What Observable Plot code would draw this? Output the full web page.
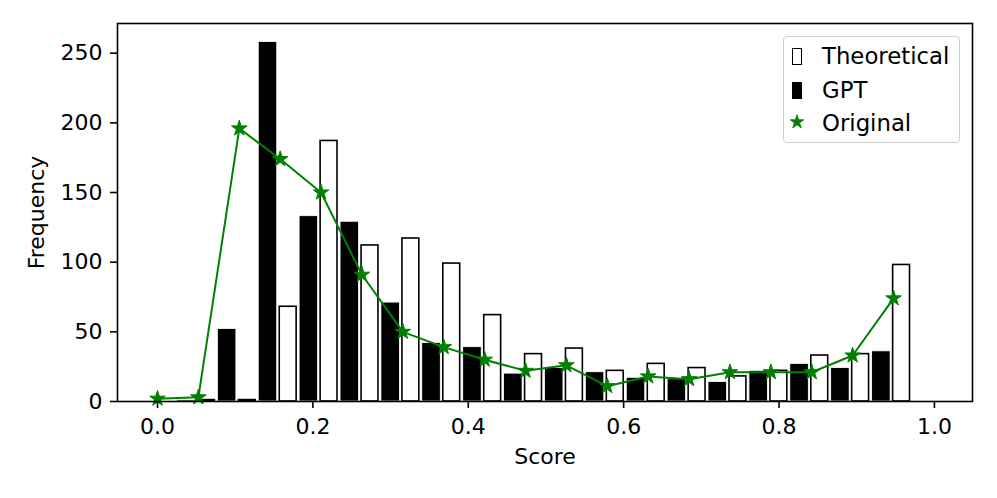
<!DOCTYPE html>
<html><head><meta charset="utf-8">
<script src="https://cdn.jsdelivr.net/npm/d3@7"></script>
<script src="https://cdn.jsdelivr.net/npm/@observablehq/plot@0.6"></script>
<style>
body{margin:0;background:#fff;}
#wrap{position:relative;width:997px;height:498px;font-family:"DejaVu Sans",sans-serif;color:#000;}
#wrap svg{display:block;}
.legend{position:absolute;left:783px;top:36px;width:177px;height:107px;box-sizing:border-box;border:1.5px solid #d0d0d0;border-radius:4px;background:rgba(255,255,255,0.85);font-size:22.8px;}
.lg-item{position:absolute;left:38px;line-height:22px;white-space:nowrap;}
.sw{position:absolute;box-sizing:border-box;}
</style></head><body><div id="wrap"></div>
<script>
// Bin centres (score) and counts
const scores = [0.0000, 0.0526, 0.1053, 0.1579, 0.2105, 0.2632, 0.3158, 0.3684, 0.4211, 0.4737,
                0.5263, 0.5789, 0.6316, 0.6842, 0.7368, 0.7895, 0.8421, 0.8947, 0.9474];
const gpt =         [0, 1, 52, 258, 133, 129, 71, 42, 39, 20, 24, 21, 17, 16, 14, 22, 27, 24, 36];
const theoretical = [0, 1, 1, 68, 187, 112, 117, 99, 62, 34, 38, 22, 27, 24, 18, 22, 33, 34, 98];
const original =    [2, 3, 196, 174, 150, 91, 50, 39, 30, 22, 26, 11, 18, 16, 21, 21, 21, 33, 74];
const barWidth = 0.0238;
const gptOffset = -0.0157;
const theoOffset = 0.0103;
const xTicks = [0.0, 0.2, 0.4, 0.6, 0.8, 1.0];
const yTicks = [0, 50, 100, 150, 200, 250];
const seriesNames = ["Theoretical", "GPT", "Original"];

const gptRows = scores.map((s, i) => ({x1: s + gptOffset - barWidth / 2, x2: s + gptOffset + barWidth / 2, y1: 0, y2: gpt[i]}));
const theoRows = scores.map((s, i) => ({x1: s + theoOffset - barWidth / 2, x2: s + theoOffset + barWidth / 2, y1: 0, y2: theoretical[i]}));
const origRows = scores.map((s, i) => ({x: s, y: original[i]}));

const chart = Plot.plot({
  width: 997, height: 498,
  marginLeft: 117, marginRight: 25, marginTop: 23, marginBottom: 97,
  style: {fontFamily: "DejaVu Sans", fontSize: "22px", color: "#000", background: "#fff"},
  x: {domain: [-0.0515, 1.049]},
  y: {domain: [0, 271.3]},
  marks: [
    Plot.rect(gptRows, {x1: "x1", x2: "x2", y1: "y1", y2: "y2", fill: "#000", stroke: "#fff", strokeWidth: 0.8}),
    Plot.rect(theoRows, {x1: "x1", x2: "x2", y1: "y1", y2: "y2", fill: "#fff", stroke: "#000", strokeWidth: 1.6, insetLeft: 0.8, insetRight: 0.8}),
    Plot.line(origRows, {x: "x", y: "y", stroke: "#008000", strokeWidth: 2}),
    Plot.dot(origRows, {x: "x", y: "y", symbol: "star", r: 4.9, fill: "#008000", stroke: "#008000", strokeWidth: 1}),
    Plot.frame({stroke: "#000", strokeWidth: 1.6}),
    Plot.axisX({ticks: xTicks, tickFormat: d3.format(".1f"), tickSize: 7, tickPadding: 10, strokeWidth: 1.6, label: null}),
    Plot.axisY({ticks: yTicks, tickSize: 7, tickPadding: 8, strokeWidth: 1.6, label: null}),
    Plot.text(["Score"], {text: d => d, frameAnchor: "bottom", textAnchor: "middle", dy: 62, fontSize: 22}),
    Plot.text(["Frequency"], {text: d => d, frameAnchor: "left", textAnchor: "middle", dx: -81, rotate: -90, fontSize: 22})
  ]
});
const wrap = document.getElementById("wrap");
wrap.appendChild(chart);

// Legend
const lg = document.createElement("div");
lg.className = "legend";
const starPath = d3.symbol(d3.symbolStar, 60)();
lg.innerHTML = `
  <div class="sw" style="left:8px;top:11px;width:10px;height:17px;border:1.6px solid #000;background:#fff;"></div>
  <div class="lg-item" style="top:8px;">${seriesNames[0]}</div>
  <div class="sw" style="left:8px;top:45px;width:10px;height:17px;background:#000;"></div>
  <div class="lg-item" style="top:42px;">${seriesNames[1]}</div>
  <svg class="sw" style="left:5px;top:77px;" width="16" height="16" viewBox="-8 -8 16 16"><path d="${starPath}" fill="#008000" stroke="#008000" stroke-width="0.8"/></svg>
  <div class="lg-item" style="top:75px;">${seriesNames[2]}</div>`;
wrap.appendChild(lg);
</script>
</body></html>
